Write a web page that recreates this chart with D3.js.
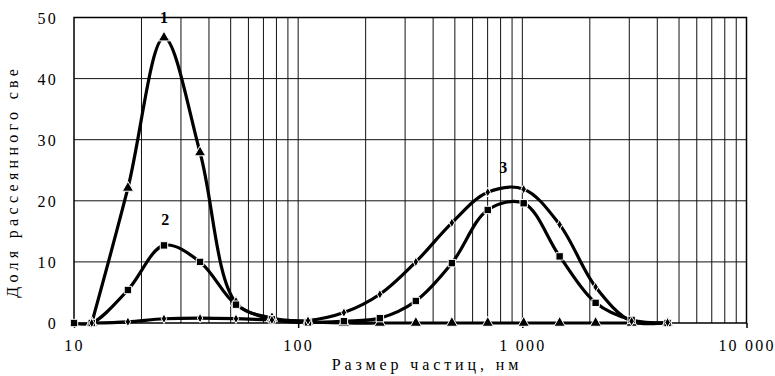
<!DOCTYPE html>
<html>
<head>
<meta charset="utf-8">
<script src="https://cdn.jsdelivr.net/npm/d3@7"></script>
<style>
  body { margin: 0; background: #fff; }
</style>
</head>
<body>
<div id="chart"></div>
<script>
var svgWidth = 775;
var svgHeight = 376;

var margin = { top: 17.5, right: 28.5, bottom: 53, left: 74 };
var width = svgWidth - margin.left - margin.right;
var height = svgHeight - margin.top - margin.bottom;

// particle sizes, nm
var sizes = [12.0, 17.4, 25.2, 36.5, 52.8, 76.4, 110.6, 160, 231.5, 335, 485, 701, 1014, 1467, 2123, 3072, 4445];

// curve 1 (triangles)
var curve1 = [0, 22.1, 46.7, 27.9, 3.3, 0.8, 0.2, 0, 0, 0, 0, 0, 0, 0, 0, 0, 0];
// curve 2 (squares), starts one point earlier at 10 nm
var sizes2 = [10].concat(sizes);
var curve2 = [0, 0, 5.4, 12.7, 10.0, 3.0, 0.6, 0.1, 0.3, 0.8, 3.6, 9.8, 18.5, 19.6, 10.9, 3.3, 0.5, 0];
// curve 3 (diamonds)
var curve3 = [0, 0.2, 0.7, 0.8, 0.7, 0.5, 0.4, 1.7, 4.7, 10.0, 16.4, 21.4, 21.9, 16.1, 5.9, 0.3, 0.1];

var xTicks = [10, 100, 1000, 10000];
var xTickLabels = ["10", "100", "1 000", "10 000"];
var yTicks = [0, 10, 20, 30, 40, 50];

var curveLabels = ["1", "2", "3"];
var labelX = [25.2, 25.5, 822];
var labelY = [49.1, 16.0, 24.5];

var serif = "'Liberation Serif'";

var svg = d3.select("#chart")
  .append("svg")
  .attr("width", svgWidth)
  .attr("height", svgHeight);

svg.append("rect").attr("width", svgWidth).attr("height", svgHeight).attr("fill", "#fff");

var chartGroup = svg.append("g")
  .attr("transform", `translate(${margin.left}, ${margin.top})`);

var x = d3.scaleLog().domain([10, 10000]).range([0, width]);
var y = d3.scaleLinear().domain([0, 50]).range([height, 0]);

// vertical grid on every log step
var minor = [];
[10, 100, 1000].forEach(function(dec) {
  for (var k = 2; k <= 10; k++) minor.push(dec * k);
});
minor = minor.filter(d => d < 10000);

chartGroup.append("g")
  .selectAll("line")
  .data(minor)
  .enter()
  .append("line")
  .attr("x1", d => x(d)).attr("x2", d => x(d))
  .attr("y1", 0).attr("y2", height)
  .attr("stroke", "#111")
  .attr("stroke-width", 1);

chartGroup.append("g")
  .selectAll("line")
  .data(yTicks.slice(1, -1))
  .enter()
  .append("line")
  .attr("x1", 0).attr("x2", width)
  .attr("y1", d => y(d)).attr("y2", d => y(d))
  .attr("stroke", "#111")
  .attr("stroke-width", 1);

// plot frame
chartGroup.append("rect")
  .attr("width", width).attr("height", height)
  .attr("fill", "none").attr("stroke", "#000").attr("stroke-width", 1.5);

// axes
var bottomAxis = d3.axisBottom(x).tickValues(xTicks)
  .tickFormat((d, i) => xTickLabels[i]).tickSize(5).tickPadding(12);
var leftAxis = d3.axisLeft(y).tickValues(yTicks).tickSize(0).tickPadding(16);

var gx = chartGroup.append("g")
  .attr("transform", `translate(0, ${height})`)
  .call(bottomAxis);
var gy = chartGroup.append("g").call(leftAxis);

[gx, gy].forEach(function(g) {
  g.attr("font-family", serif).attr("font-size", 16);
  g.select(".domain").remove();
  g.selectAll("line").attr("stroke", "#000").attr("stroke-width", 1.5);
  g.selectAll("text")
    .attr("letter-spacing", 2.2)
    .attr("fill", "#000");
});
gy.selectAll("text").attr("dy", "0.35em");

// series
var line = d3.line()
  .x(d => x(d[0]))
  .y(d => y(d[1]))
  .curve(d3.curveCatmullRom.alpha(0.5));

var series = [
  { pts: d3.zip(sizes, curve1), marker: d3.symbolTriangle, size: 55 },
  { pts: d3.zip(sizes2, curve2), marker: d3.symbolSquare, size: 55 },
  { pts: d3.zip(sizes, curve3), marker: d3.symbolDiamond, size: 26 }
];

series.forEach(function(s) {
  chartGroup.append("path")
    .datum(s.pts)
    .attr("d", line)
    .attr("fill", "none")
    .attr("stroke", "#000")
    .attr("stroke-width", 3.2);
});

series.forEach(function(s) {
  chartGroup.append("g")
    .selectAll("path")
    .data(s.pts)
    .enter()
    .append("path")
    .attr("d", d3.symbol().type(s.marker).size(s.size))
    .attr("transform", d => `translate(${x(d[0])}, ${y(d[1])})`)
    .attr("fill", "#000")
    .attr("stroke", "#fff")
    .attr("stroke-width", 1);
});

// curve numbers
chartGroup.selectAll(".num")
  .data(curveLabels)
  .enter()
  .append("text")
  .attr("class", "num")
  .attr("x", (d, i) => x(labelX[i]))
  .attr("y", (d, i) => y(labelY[i]))
  .attr("text-anchor", "middle")
  .attr("font-family", serif)
  .attr("font-weight", "bold")
  .attr("font-size", 16)
  .text(d => d);

// axis titles
chartGroup.append("text")
  .attr("transform", `translate(${-56}, ${height / 2 + 11}) rotate(-90)`)
  .attr("text-anchor", "middle")
  .attr("font-family", serif)
  .attr("font-size", 16)
  .attr("letter-spacing", 4.3)
  .text("Доля рассеянного све");

chartGroup.append("text")
  .attr("x", 353)
  .attr("y", height + 47)
  .attr("text-anchor", "middle")
  .attr("font-family", serif)
  .attr("font-size", 16)
  .attr("letter-spacing", 3.9)
  .text("Размер частиц, нм");
</script>
</body>
</html>
